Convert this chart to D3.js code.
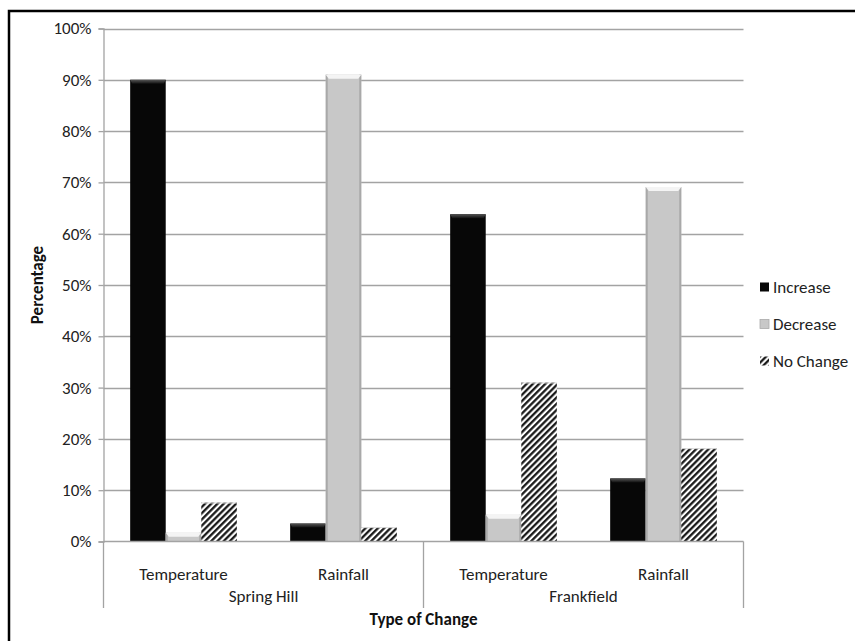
<!DOCTYPE html>
<html>
<head>
<meta charset="utf-8">
<script src="https://cdn.jsdelivr.net/npm/d3@7"></script>
<style>
  body { margin: 0; background: #fff; }
  svg text { font-family: Carlito, Lato, "Open Sans", sans-serif; fill: #222; }
</style>
</head>
<body>
<div id="chart"></div>
<script>
/** --- DATA --- */
const locations = ['Spring Hill', 'Frankfield'];
const changeTypes = ['Temperature', 'Rainfall'];
const seriesNames = ['Increase', 'Decrease', 'No Change'];
// one value per location/type pair, in order SH-Temp, SH-Rain, FF-Temp, FF-Rain
const increase = [90, 3.5, 63.8, 12.3];
const decrease = [1.7, 91, 5.2, 69.1];
const noChange = [7.6, 2.8, 31, 18.2];
const yTicks = [0, 10, 20, 30, 40, 50, 60, 70, 80, 90, 100];

/** --- DIMENSIONS --- */
const width = 855;
const height = 641;
const plot = { left: 103.5, right: 743.5, top: 28.5, bottom: 541.5 };
const fontSize = '17px';

const svg = d3.select('#chart')
  .append('svg')
  .attr('width', width)
  .attr('height', height);

const defs = svg.append('defs');
const hatch = defs.append('pattern')
  .attr('id', 'hatch')
  .attr('patternUnits', 'userSpaceOnUse')
  .attr('width', 4.4)
  .attr('height', 4.4)
  .attr('patternTransform', 'rotate(45)');
hatch.append('rect').attr('width', 4.4).attr('height', 4.4).attr('fill', '#fff');
hatch.append('line')
  .attr('x1', 1.2).attr('y1', 0).attr('x2', 1.2).attr('y2', 4.4)
  .attr('stroke', '#111').attr('stroke-width', 2.2);

const blackTop = defs.append('linearGradient')
  .attr('id', 'blackTop').attr('x1', 0).attr('y1', 0).attr('x2', 0).attr('y2', 1);
blackTop.append('stop').attr('offset', '0%').attr('stop-color', '#555');
blackTop.append('stop').attr('offset', '100%').attr('stop-color', '#111');

// outer frame
svg.append('rect')
  .attr('x', 9).attr('y', 11)
  .attr('width', 870).attr('height', 660)
  .attr('fill', 'none')
  .attr('stroke', '#000')
  .attr('stroke-width', 2.5);

/** --- SCALES --- */
const cats = [];
locations.forEach(function(loc) {
  changeTypes.forEach(function(t) { cats.push(loc + '|' + t); });
});

const x0 = d3.scaleBand()
  .domain(cats)
  .range([plot.left, plot.right])
  .padding(0);

const x1 = d3.scaleBand()
  .domain(seriesNames)
  .range([0, x0.bandwidth()])
  .paddingInner(0)
  .paddingOuter(0.75);

const y = d3.scaleLinear()
  .domain([0, 100])
  .range([plot.bottom, plot.top]);

const fills = { 'Increase': '#070707', 'Decrease': '#c8c8c8', 'No Change': 'url(#hatch)' };

/** --- GRID + Y AXIS --- */
const grid = svg.append('g');
grid.selectAll('line')
  .data(yTicks.filter(function(d) { return d > 0; }))
  .enter()
  .append('line')
  .attr('x1', plot.left)
  .attr('x2', plot.right)
  .attr('y1', function(d) { return Math.round(y(d)) + 0.5; })
  .attr('y2', function(d) { return Math.round(y(d)) + 0.5; })
  .attr('stroke', '#a3a3a3')
  .attr('stroke-width', 1.3);

const yAxis = d3.axisLeft(y)
  .tickValues(yTicks)
  .tickFormat(function(d) { return d + '%'; })
  .tickSize(5)
  .tickPadding(7);

const yG = svg.append('g')
  .attr('transform', 'translate(' + plot.left + ',0)')
  .call(yAxis);
yG.attr('font-family', null).attr('font-size', null);
yG.select('.domain').attr('stroke', '#a3a3a3').attr('stroke-width', 1.3);
yG.selectAll('.tick line').attr('stroke', '#a3a3a3').attr('stroke-width', 1.3);
yG.selectAll('.tick text')
  .style('font-size', fontSize)
  .attr('fill', '#222');

/** --- BARS --- */
const rows = cats.map(function(c, i) {
  return { cat: c, values: [
    { name: 'Increase', value: increase[i] },
    { name: 'Decrease', value: decrease[i] },
    { name: 'No Change', value: noChange[i] }
  ] };
});

const groups = svg.append('g')
  .selectAll('g')
  .data(rows)
  .enter()
  .append('g')
  .attr('transform', function(d) { return 'translate(' + x0(d.cat) + ',0)'; });

const bars = groups.selectAll('g.bar')
  .data(function(d) { return d.values; })
  .enter()
  .append('g')
  .attr('class', 'bar');

bars.append('rect')
  .attr('x', function(d) { return x1(d.name); })
  .attr('y', function(d) { return y(d.value); })
  .attr('width', x1.bandwidth())
  .attr('height', function(d) { return y(0) - y(d.value); })
  .attr('fill', function(d) { return fills[d.name]; });

// bevel bits, roughly like the office 3d look
bars.filter(function(d) { return d.name === 'Increase'; })
  .append('path')
  .attr('d', function(d) {
    const xl = x1(d.name), xr = xl + x1.bandwidth(), yt = y(d.value);
    const b = Math.min(4, y(0) - yt);
    return 'M' + xl + ',' + yt + 'L' + xr + ',' + yt + 'L' + (xr - 2) + ',' + (yt + b) + 'L' + (xl + 2) + ',' + (yt + b) + 'Z';
  })
  .attr('fill', 'url(#blackTop)');

const greyBars = bars.filter(function(d) { return d.name === 'Decrease'; });
greyBars.append('rect')
  .attr('x', function(d) { return x1(d.name); })
  .attr('y', function(d) { return y(d.value); })
  .attr('width', 2)
  .attr('height', function(d) { return y(0) - y(d.value); })
  .attr('fill', '#a9a9a9');
greyBars.append('rect')
  .attr('x', function(d) { return x1(d.name) + x1.bandwidth() - 2; })
  .attr('y', function(d) { return y(d.value); })
  .attr('width', 2)
  .attr('height', function(d) { return y(0) - y(d.value); })
  .attr('fill', '#a9a9a9');
greyBars.append('path')
  .attr('d', function(d) {
    const xl = x1(d.name), xr = xl + x1.bandwidth(), yt = y(d.value);
    return 'M' + xl + ',' + yt + 'L' + xr + ',' + yt + 'L' + (xr - 3) + ',' + (yt + 4) + 'L' + (xl + 3) + ',' + (yt + 4) + 'Z';
  })
  .attr('fill', '#f4f4f4');

bars.filter(function(d) { return d.name === 'No Change'; })
  .append('line')
  .attr('x1', function(d) { return x1(d.name); })
  .attr('x2', function(d) { return x1(d.name) + x1.bandwidth(); })
  .attr('y1', function(d) { return y(d.value) + 0.5; })
  .attr('y2', function(d) { return y(d.value) + 0.5; })
  .attr('stroke', '#ddd');

/** --- CATEGORY AXIS (two levels) --- */
const catAxis = svg.append('g');
catAxis.append('line')
  .attr('x1', plot.left).attr('x2', plot.right)
  .attr('y1', plot.bottom).attr('y2', plot.bottom)
  .attr('stroke', '#a3a3a3').attr('stroke-width', 1.3);

const groupWidth = x0.bandwidth() * changeTypes.length;
const sepX = [plot.left].concat(locations.map(function(l, i) { return plot.left + groupWidth * (i + 1); }));
catAxis.selectAll('line.sep')
  .data(sepX)
  .enter()
  .append('line')
  .attr('class', 'sep')
  .attr('x1', function(d) { return d; })
  .attr('x2', function(d) { return d; })
  .attr('y1', plot.bottom)
  .attr('y2', 608)
  .attr('stroke', '#a3a3a3').attr('stroke-width', 1.3);

catAxis.selectAll('text.sub')
  .data(cats)
  .enter()
  .append('text')
  .attr('class', 'sub')
  .attr('x', function(d) { return x0(d) + x0.bandwidth() / 2; })
  .attr('y', 580)
  .attr('text-anchor', 'middle')
  .style('font-size', fontSize)
  .text(function(d) { return d.split('|')[1]; });

catAxis.selectAll('text.loc')
  .data(locations)
  .enter()
  .append('text')
  .attr('class', 'loc')
  .attr('x', function(d, i) { return plot.left + groupWidth * (i + 0.5); })
  .attr('y', 602)
  .attr('text-anchor', 'middle')
  .style('font-size', fontSize)
  .text(function(d) { return d; });

svg.append('text')
  .attr('x', (plot.left + plot.right) / 2)
  .attr('y', 625)
  .attr('text-anchor', 'middle')
  .style('font-size', fontSize)
  .style('font-weight', 'bold')
  .style('fill', '#111')
  .text('Type of Change');

svg.append('text')
  .attr('transform', 'translate(43,285) rotate(-90)')
  .attr('text-anchor', 'middle')
  .style('font-size', fontSize)
  .style('font-weight', 'bold')
  .style('fill', '#111')
  .text('Percentage');

/** --- LEGEND --- */
const legend = svg.append('g')
  .selectAll('g')
  .data(seriesNames)
  .enter()
  .append('g')
  .attr('transform', function(d, i) { return 'translate(760,' + (287 + i * 37) + ')'; });

legend.append('rect')
  .attr('x', 0).attr('y', -4.5)
  .attr('width', 9).attr('height', 9)
  .attr('fill', function(d) { return fills[d]; })
  .attr('stroke', function(d) { return d === 'Decrease' ? '#aaa' : 'none'; })
  .attr('stroke-width', 0.8);

legend.append('text')
  .attr('x', 13)
  .attr('y', 0)
  .attr('dy', '0.35em')
  .style('font-size', fontSize)
  .text(function(d) { return d; });
</script>
</body>
</html>
